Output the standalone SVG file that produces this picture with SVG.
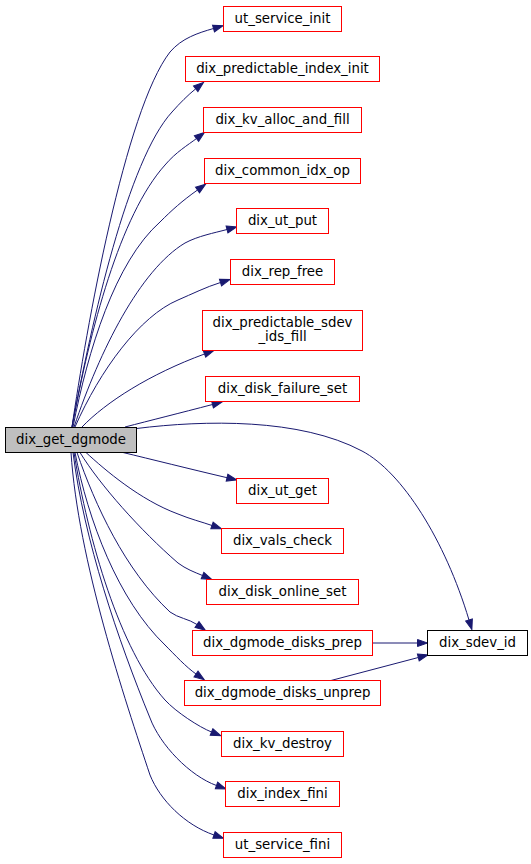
<svg xmlns="http://www.w3.org/2000/svg" width="531" height="864" viewBox="0 0 531 864">
<style>
.n rect{fill:#ffffff;stroke:#ff0000;stroke-width:1}
.n text{font-family:"DejaVu Sans","Liberation Sans",sans-serif;font-size:13.33px;fill:#000000;text-anchor:middle}
#main rect{fill:#bfbfbf;stroke:#000000}
#sdev rect{fill:#ffffff;stroke:#000000}
.e path{fill:none;stroke:#191970;stroke-width:1;marker-end:url(#ah)}
</style>
<defs>
<marker id="ah" markerWidth="10" markerHeight="7" refX="0" refY="3.5" orient="auto" markerUnits="userSpaceOnUse" overflow="visible">
<path d="M0,0 L10,3.5 L0,7 z" fill="#191970" stroke="#191970" stroke-width="1"/>
</marker>
</defs>
<rect width="531" height="864" fill="#ffffff"/>
<g id="edges" class="e">
<path d="M72,427 C86,330 125,110 170,52 C182,38 198,33 213.5,28.5"/>
<path d="M72,427 C92,320 128,160 172,112 C180,103 188,95 195.7,88.8"/>
<path d="M72,427 C90,330 120,215 165,165 C176,152 188,145 196.5,138.5"/>
<path d="M73,427 C88,350 115,262 160,222 C172,210 182,201 197.5,190"/>
<path d="M74,427 C100,350 140,270 185,243 C198,236 214,233 227,229.5"/>
<path d="M75,427 C100,370 140,316 178,300 C192,294 206,287 220.5,282.5"/>
<path d="M82,427 C106,402 150,374 204.5,354"/>
<path d="M125,427 C150,420.5 180,413 212.5,404.5"/>
<path d="M136.5,428.5 C205,420 300,418 362,451 C402,472 445,540 469,620"/>
<path d="M123,452.5 C150,459 190,469 227,477.7"/>
<path d="M86,452.5 C105,470 140,500 178,514 C190,519 202,522 212,525.5"/>
<path d="M80,452.5 C100,485 140,530 178,563 C186,569 194,572 202.5,575.5"/>
<path d="M77,452.5 C95,505 125,570 170,612 C178,618 189,619 197,624.5"/>
<path d="M75,452.5 C88,520 118,600 165,645 C175,655 186,667 196,674"/>
<path d="M74,452.5 C88,540 120,650 165,700 C176,712 199,727 211.5,732"/>
<path d="M73,452.5 C84,540 118,640 150,718 C160,745 190,776 216.5,785.5"/>
<path d="M71,452.5 C78,560 125,700 150,775 C160,800 185,825 214,835"/>
<path d="M372.5,643 L417.5,643"/>
<path d="M331,680.5 L418.3,657.5"/>
</g>
<g id="main" class="n"><rect x="5.5" y="427.5" width="131" height="25"/><text x="71" y="443.5">dix_get_dgmode</text></g>
<g id="n1" class="n"><rect x="223.5" y="6.5" width="118" height="25"/><text x="282.5" y="22.5">ut_service_init</text></g>
<g id="n2" class="n"><rect x="185.5" y="56.5" width="194" height="25"/><text x="282.5" y="72.5">dix_predictable_index_init</text></g>
<g id="n3" class="n"><rect x="203.5" y="107.5" width="158" height="25"/><text x="282.5" y="123.5">dix_kv_alloc_and_fill</text></g>
<g id="n4" class="n"><rect x="204.5" y="158.5" width="156" height="25"/><text x="282.5" y="174.5">dix_common_idx_op</text></g>
<g id="n5" class="n"><rect x="236.5" y="208.5" width="92" height="25"/><text x="282.5" y="224.5">dix_ut_put</text></g>
<g id="n6" class="n"><rect x="230.5" y="259.5" width="104" height="25"/><text x="282.5" y="275.5">dix_rep_free</text></g>
<g id="n7" class="n"><rect x="202.5" y="310.5" width="160" height="40"/><text x="282.5" y="326.5">dix_predictable_sdev</text><text x="282.5" y="341">_ids_fill</text></g>
<g id="n8" class="n"><rect x="205.5" y="376.5" width="154" height="25"/><text x="282.5" y="392.5">dix_disk_failure_set</text></g>
<g id="n9" class="n"><rect x="236.5" y="478.5" width="92" height="25"/><text x="282.5" y="494.5">dix_ut_get</text></g>
<g id="n10" class="n"><rect x="221.5" y="528.5" width="122" height="25"/><text x="282.5" y="544.5">dix_vals_check</text></g>
<g id="n11" class="n"><rect x="206.5" y="579.5" width="152" height="25"/><text x="282.5" y="595.5">dix_disk_online_set</text></g>
<g id="n12" class="n"><rect x="192.5" y="630.5" width="180" height="25"/><text x="282.5" y="646.5">dix_dgmode_disks_prep</text></g>
<g id="n13" class="n"><rect x="184.5" y="680.5" width="196" height="25"/><text x="282.5" y="696.5">dix_dgmode_disks_unprep</text></g>
<g id="n14" class="n"><rect x="221.5" y="731.5" width="122" height="25"/><text x="282.5" y="747.5">dix_kv_destroy</text></g>
<g id="n15" class="n"><rect x="225.5" y="781.5" width="114" height="25"/><text x="282.5" y="797.5">dix_index_fini</text></g>
<g id="n16" class="n"><rect x="223.5" y="832.5" width="118" height="25"/><text x="282.5" y="848.5">ut_service_fini</text></g>
<g id="sdev" class="n"><rect x="427.5" y="630.5" width="100" height="25"/><text x="477.5" y="646.5">dix_sdev_id</text></g>
</svg>
